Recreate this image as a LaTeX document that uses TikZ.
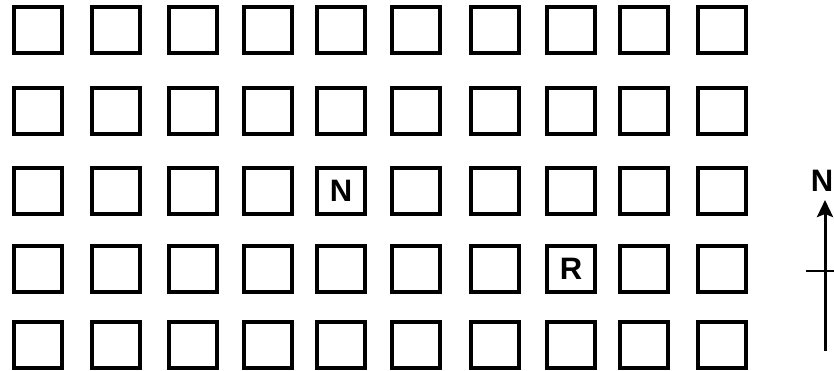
\documentclass[tikz,border=0pt]{standalone}
\usepackage{fontspec}
\setmainfont{Liberation Sans}
\usetikzlibrary{arrows.meta}
\begin{document}
\begin{tikzpicture}[x=1pt,y=-1pt,
  plotbox/.style={draw=black,line width=3.1pt,minimum width=48pt,minimum height=46pt,inner sep=0pt},
  plotlabel/.style={font=\bfseries\fontsize{31}{33}\selectfont,inner sep=0pt},
  arrowline/.style={line width=3pt,-{Stealth[length=17pt,width=16pt,inset=3pt]}},
  barline/.style={line width=1.6pt}]
\useasboundingbox (0,0) rectangle (834,371);
\foreach \r/\y in {1/30,2/111,3/191,4/269,5/345}{
  \foreach \c/\x in {1/38,2/116,3/193,4/268,5/341,6/416,7/495,8/571,9/644,10/722}{
    \node[plotbox] (s-\r-\c) at (\x,\y) {};
  }
}
\node[plotlabel] (lN) at (s-3-5) {N};
\node[plotlabel] (lR) at (s-4-8) {R};
\coordinate (tail) at (825,351);
\coordinate (head) at (825,200);
\coordinate (barL) at (806,271);
\coordinate (barR) at (834,271);
\node[font=\bfseries\fontsize{31}{33}\selectfont,inner sep=0pt] (north) at (822,181) {N};
\draw[arrowline] (tail) -- (head);
\draw[barline] (barL) -- (barR);
\end{tikzpicture}
\end{document}
